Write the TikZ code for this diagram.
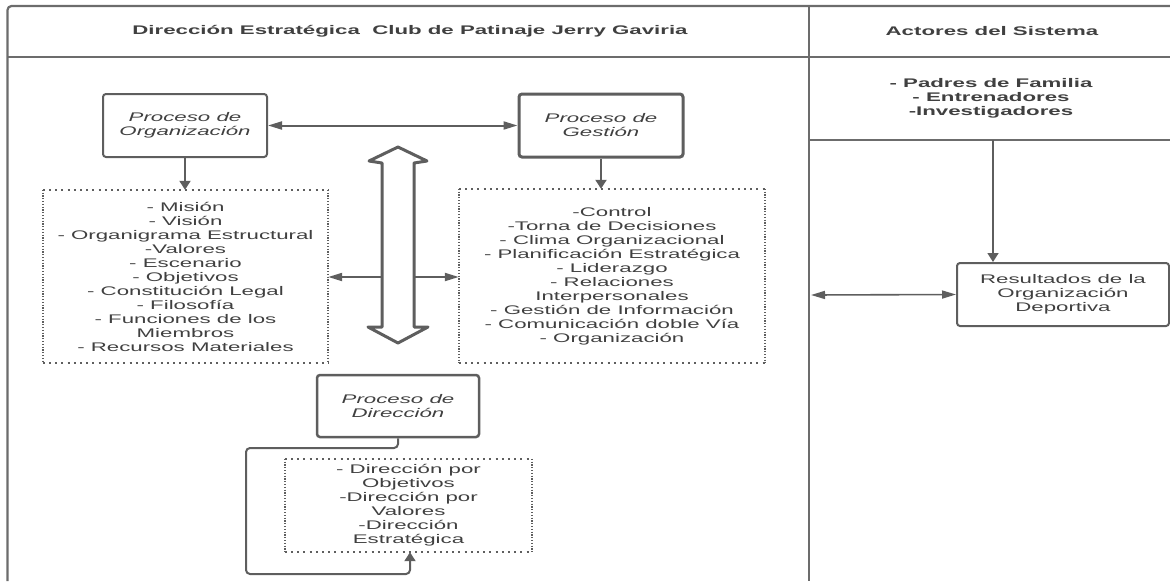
\documentclass[tikz,border=0pt]{standalone}
\usepackage{fontspec}
\setmainfont{Liberation Sans}[FakeStretch=1.78]
\usetikzlibrary{arrows.meta}
\definecolor{ln}{HTML}{5E5E5E}
\definecolor{tx}{HTML}{404040}
\definecolor{pl}{HTML}{6C6C6C}
\begin{document}
\begin{tikzpicture}[x=1pt,y=-1pt,
  every node/.style={font=\fontsize{12.5}{14}\selectfont, text=tx, inner sep=0pt, align=center},
  procbox/.style={draw=ln, line width=2pt, rounded corners=3pt, minimum width=164pt, minimum height=63pt, font=\fontsize{12.5}{14}\selectfont\itshape},
  resbox/.style={draw=ln, line width=2pt, rounded corners=3pt},
  dothz/.style={draw=ln, line width=1.6pt, dash pattern=on 2pt off 4.2pt},
  dotvt/.style={draw=ln, line width=1.6pt, dash pattern=on 1.2pt off 1.6pt},
  pool/.style={draw=pl, line width=2.2pt},
  lane/.style={draw=pl, line width=1.6pt},
  harrow/.style={draw=ln, line width=2pt, -{Triangle[length=14pt,width=8pt]}},
  harrowboth/.style={draw=ln, line width=2pt, {Triangle[length=14pt,width=8pt]}-{Triangle[length=14pt,width=8pt]}},
  varrow/.style={draw=ln, line width=2pt, -{Triangle[length=9pt,width=11pt]}},
  bigarrow/.style={draw=ln, line width=3pt, line join=round, fill=white},
  hdr/.style={font=\fontsize{12.5}{14}\selectfont\bfseries}
]
\useasboundingbox (0,0) rectangle (1170,581);

% pools and lanes
\draw[pool, rounded corners=4pt] (7.5,581) -- (7.5,6) -- (1170,6);
\draw[lane] (7.5,57) -- (1170,57);
\draw[pool] (809,6) -- (809,581);
\draw[lane] (809,140) -- (1170,140);

\node[hdr] (ttl) at (410,31) {Dirección Estratégica\ \ Club de Patinaje Jerry Gaviria};
\node[hdr] (acth) at (992,31) {Actores del Sistema};
\node[hdr, minimum width=361pt, minimum height=83pt] (act) at (991,98.5) {- Padres de Familia\\- Entrenadores\\-Investigadores};

% process boxes
\node[procbox] (org) at (185,125.5) {Proceso de\\Organización};
\node[procbox, line width=3pt] (ges) at (601,125.5) {Proceso de\\Gestión};
\node[procbox, minimum width=162pt, minimum height=62pt, line width=2.5pt] (dir) at (398,406) {Proceso de\\Dirección};
\node[resbox, minimum width=212pt, minimum height=63pt] (res) at (1063,294.5) {Resultados de la\\Organización\\Deportiva};

% dotted boxes
\node[minimum width=285pt, minimum height=173pt] (ldot) at (185.5,276.5) {- Misión\\- Visión\\- Organigrama Estructural\\-Valores\\- Escenario\\- Objetivos\\- Constitución Legal\\- Filosofía\\- Funciones de los\\Miembros\\- Recursos Materiales};
\node[minimum width=306pt, minimum height=174pt] (rdot) at (612,276) {-Control\\-Torna de Decisiones\\- Clima Organizacional\\- Planificación Estratégica\\- Liderazgo\\- Relaciones\\Interpersonales\\- Gestión de Información\\- Comunicación doble Vía\\- Organización};
\node[minimum width=247pt, minimum height=93pt] (bdot) at (408.5,505.5) {- Dirección por\\Objetivos\\-Dirección por\\Valores\\-Dirección\\Estratégica};
\foreach \b in {ldot,rdot,bdot}{
  \draw[dothz] (\b.north west) -- (\b.north east);
  \draw[dothz] (\b.south west) -- (\b.south east);
  \draw[dotvt] (\b.north west) -- (\b.south west);
  \draw[dotvt] (\b.north east) -- (\b.south east);
}

% big hollow double arrow
\draw[bigarrow] (398,147) -- (427,161) -- (414,163) -- (414,327) -- (428,327) -- (398,343) -- (368,327) -- (382,327) -- (382,163) -- (369,161) -- cycle;
\coordinate (shL) at (382,277);
\coordinate (shR) at (414,277);

% connectors
\draw[harrowboth] (org.east) -- (ges.west);
\draw[varrow] (org.south) -- (org.south |- ldot.north);
\draw[varrow] (ges.south) -- (ges.south |- rdot.north);
\draw[harrow] (shL) -- (shL -| ldot.east);
\draw[harrow] (shR) -- (shR -| rdot.west);
\coordinate (actx) at (993,140);
\draw[varrow, line width=1.6pt] (actx) -- (actx |- res.north);
\coordinate (dv) at (811,295);
\draw[harrowboth, line width=1.6pt] (dv) -- (res.west);
\coordinate (lp1) at (246,448);
\coordinate (lp2) at (246,574);
\coordinate (lp3) at (410,574);
\draw[varrow, rounded corners=4pt] (dir.south) -- (dir.south |- lp1) -- (lp1) -- (lp2) -- (lp3) -- (lp3 |- bdot.south);
\end{tikzpicture}
\end{document}
